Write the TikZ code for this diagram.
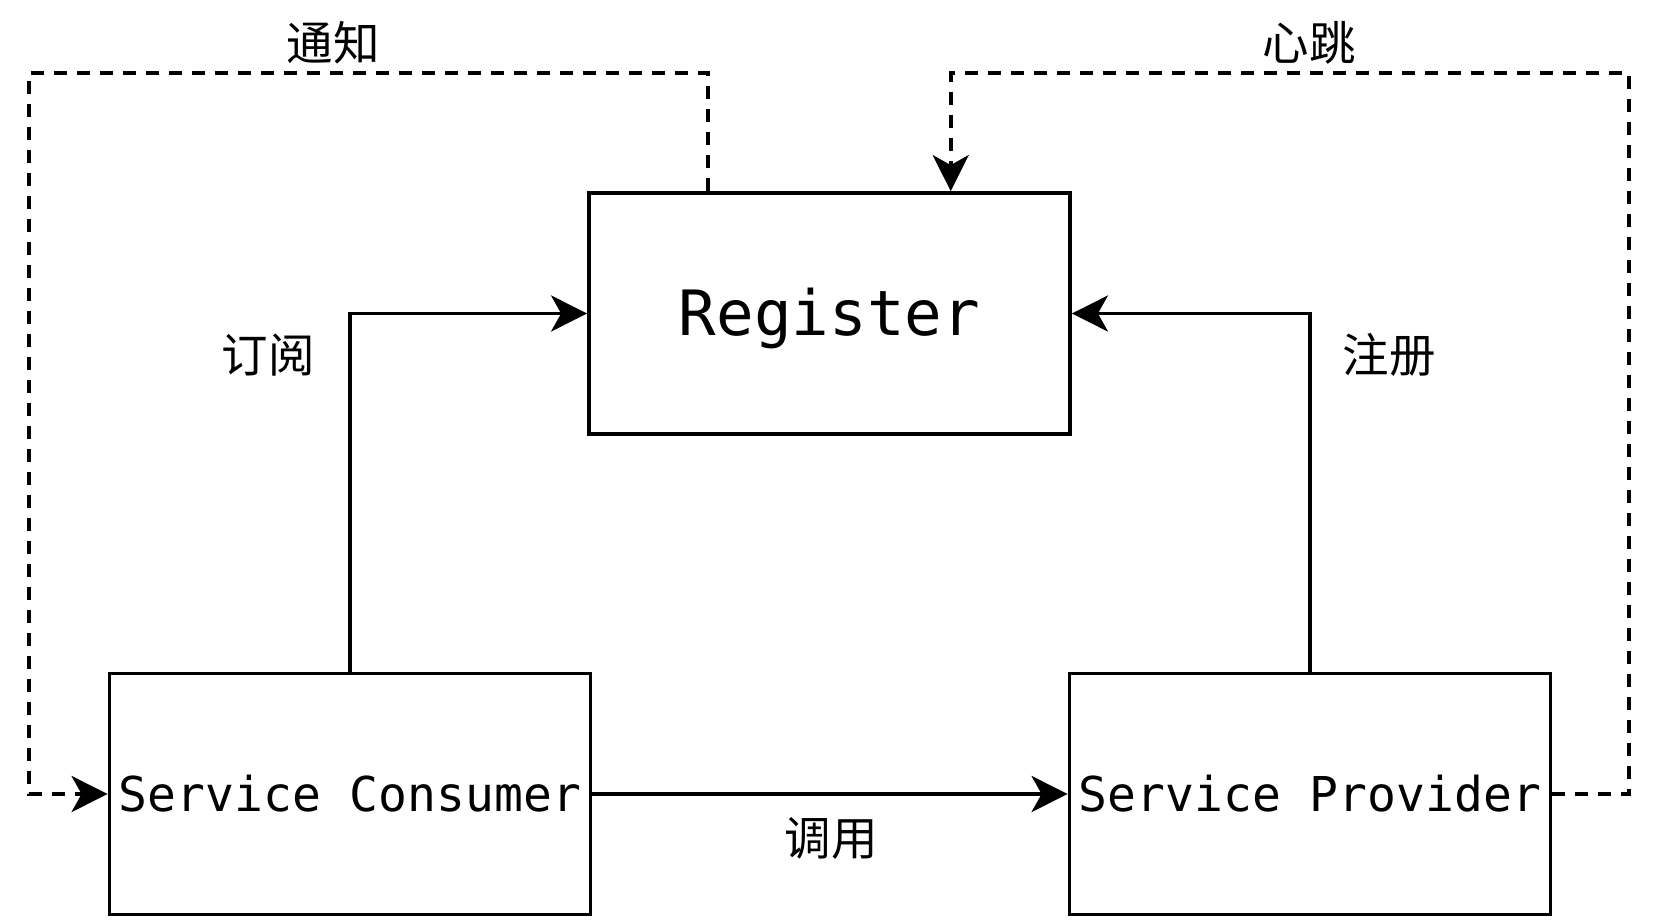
\documentclass[tikz,border=0pt]{standalone}
\usepackage{fontspec}
\setmonofont{DejaVu Sans Mono}
\newfontfamily\cjk{Noto Sans CJK SC}
\usetikzlibrary{arrows.meta,calc}
\tikzset{
  box/.style={draw, line width=3.8pt, minimum width=481pt, minimum height=241pt, inner sep=0pt, font=\ttfamily\fontsize{48}{52}\selectfont},
  conn/.style={line width=3.8pt, -{Stealth[length=36pt, width=36pt, inset=10pt]}},
  dconn/.style={conn, dash pattern=on 13pt off 10pt},
  lbl/.style={font=\cjk\fontsize{46.5}{50}\selectfont, inner sep=0pt}
}
\begin{document}
\begin{tikzpicture}[x=1pt,y=-1pt]
\useasboundingbox[fill=white] (0,0) rectangle (1664,920);
\node[box, font=\ttfamily\fontsize{62.5}{68}\selectfont] (reg) at (829.5,313.5) {\raisebox{-5pt}[\height][\depth]{Register}};
\node[box] (cons) at (350,794) {Service Consumer};
\node[box] (prov) at (1310,794) {Service Provider};
\coordinate (ntop) at ($(reg.north west)!0.25!(reg.north east)$);
\coordinate (htop) at ($(reg.north west)!0.75!(reg.north east)$);
\coordinate (nl) at (29,73);
\coordinate (hr) at (1629,73);
% solid connectors
\draw[conn] (cons.north) |- (reg.west);
\draw[conn] (prov.north) |- (reg.east);
\draw[conn] (cons.east) -- (prov.west);
% dashed connectors
\draw[dconn] (ntop) |- (nl) |- (cons.west);
\draw[dconn] (prov.east) -| (hr) -| (htop);
% labels
\node[lbl] (l1) at (333,43) {通知};
\node[lbl] (l2) at (1309,43) {心跳};
\node[lbl] (l3) at (268,355) {订阅};
\node[lbl] (l4) at (1389,355) {注册};
\node[lbl] (l5) at (831,838) {调用};
\end{tikzpicture}
\end{document}
